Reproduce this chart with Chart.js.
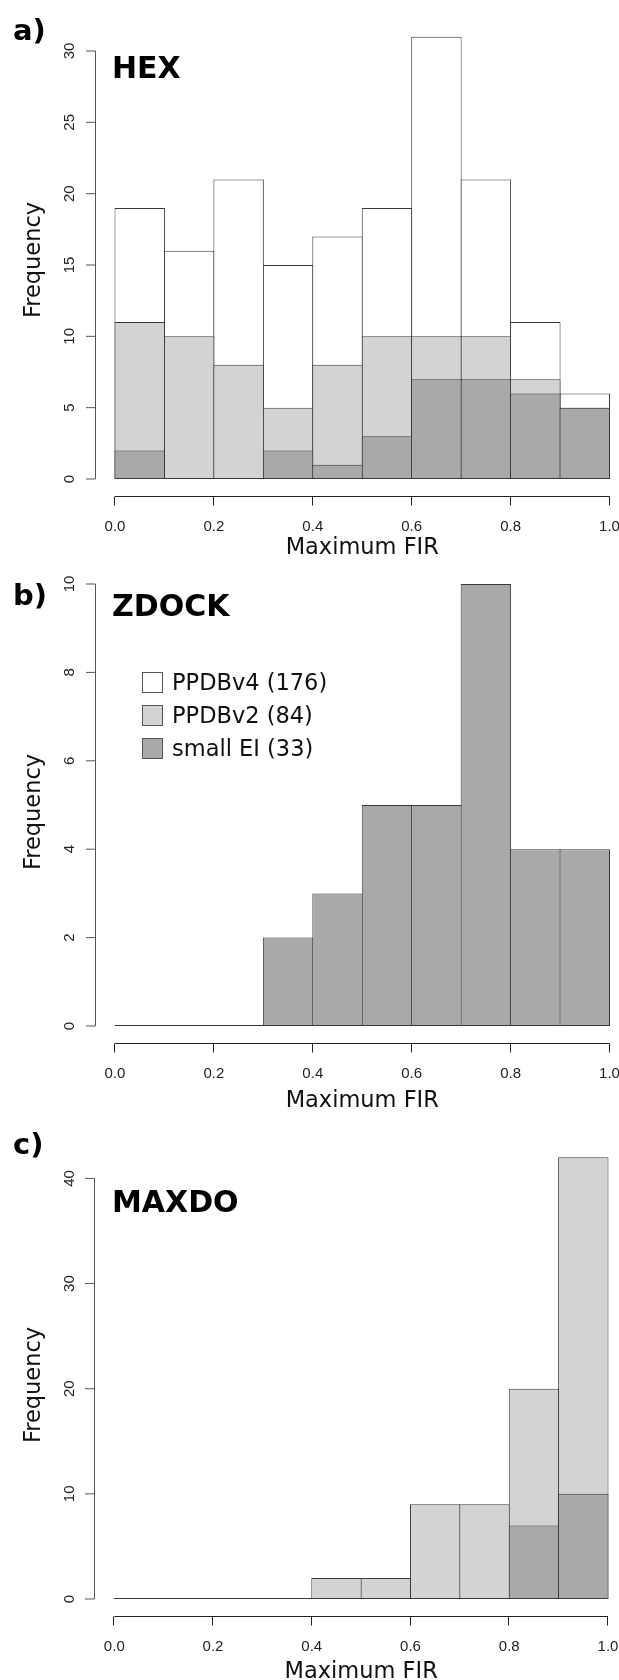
<!DOCTYPE html>
<html>
<head>
<meta charset="utf-8">
<script src="https://cdn.jsdelivr.net/npm/chart.js@4/dist/chart.umd.min.js"></script>
<style>
  html, body { margin: 0; padding: 0; background: #fff; }
  canvas { display: block; }
</style>
</head>
<body>
<canvas id="panelA" width="619" height="560"></canvas>
<canvas id="panelB" width="619" height="560"></canvas>
<canvas id="panelC" width="619" height="560"></canvas>
<script>
// MARK: - Data
// centres of the 0.1 wide classes of Maximum FIR
const binCenters = [0.05, 0.15, 0.25, 0.35, 0.45, 0.55, 0.65, 0.75, 0.85, 0.95];
const xTicks = [0.0, 0.2, 0.4, 0.6, 0.8, 1.0];
const xTickLabels = ['0.0', '0.2', '0.4', '0.6', '0.8', '1.0'];

const seriesNames = ['PPDBv4 (176)', 'PPDBv2 (84)', 'small EI (33)'];
const seriesColors = ['#ffffff', '#d3d3d3', '#a9a9a9'];

// a) HEX
const hexPPDBv4 = [19, 16, 21, 15, 17, 19, 31, 21, 11, 6];
const hexPPDBv2 = [11, 10, 8, 5, 8, 10, 10, 10, 7, 5];
const hexSmallEI = [2, 0, 0, 2, 1, 3, 7, 7, 6, 5];
const hexYTicks = [0, 5, 10, 15, 20, 25, 30];

// b) ZDOCK
const zdockSmallEI = [0, 0, 0, 2, 3, 5, 5, 10, 4, 4];
const zdockYTicks = [0, 2, 4, 6, 8, 10];

// c) MAXDO
const maxdoPPDBv2 = [0, 0, 0, 0, 2, 2, 9, 9, 20, 42];
const maxdoSmallEI = [0, 0, 0, 0, 0, 0, 0, 0, 7, 10];
const maxdoYTicks = [0, 10, 20, 30, 40];

const lineColor = '#3a3a3a';
const textFont = '"DejaVu Sans", Verdana, sans-serif';
const tickFont = '"Liberation Sans", Arial, sans-serif';

function barSet(label, values, color, order) {
  return {
    label: label,
    data: values.map(function(v, i) { return { x: binCenters[i], y: v }; }),
    backgroundColor: color,
    borderColor: lineColor,
    borderWidth: 1,
    borderSkipped: false,
    minBarLength: 1,     // empty classes still show as a line, like R's hist
    grouped: false,
    barPercentage: 1.02, // neighbours share one outline
    categoryPercentage: 1,
    order: order,
    clip: false
  };
}

// MARK: - R style axes, labels, legend
const rAxes = {
  id: 'rAxes',
  afterDraw: function(chart, args, opts) {
    const ctx = chart.ctx;
    const xs = chart.scales.x;
    const ys = chart.scales.y;
    const area = chart.chartArea;
    ctx.save();

    // y axis
    const axX = Math.floor(area.left - 19.5) + 0.5;
    ctx.strokeStyle = '#555';
    ctx.lineWidth = 1;
    ctx.beginPath();
    ctx.moveTo(axX, ys.getPixelForValue(opts.yTicks[0]));
    ctx.lineTo(axX, ys.getPixelForValue(opts.yTicks[opts.yTicks.length - 1]));
    opts.yTicks.forEach(function(t) {
      const py = ys.getPixelForValue(t);
      ctx.moveTo(axX, py);
      ctx.lineTo(axX - 9.5, py);
    });
    ctx.stroke();

    ctx.fillStyle = '#222';
    ctx.font = '15px ' + tickFont;
    ctx.textAlign = 'center';
    ctx.textBaseline = 'alphabetic';
    opts.yTicks.forEach(function(t) {
      ctx.save();
      ctx.translate(74, ys.getPixelForValue(t));
      ctx.rotate(-Math.PI / 2);
      ctx.fillText(String(t), 0, 0);
      ctx.restore();
    });

    // x axis
    const axY = Math.floor(area.bottom + 17.5) + 0.5;
    ctx.strokeStyle = '#222';
    ctx.beginPath();
    ctx.moveTo(xs.getPixelForValue(xTicks[0]), axY);
    ctx.lineTo(xs.getPixelForValue(xTicks[xTicks.length - 1]), axY);
    xTicks.forEach(function(t) {
      const px = Math.round(xs.getPixelForValue(t)) - 0.5;
      ctx.moveTo(px, axY);
      ctx.lineTo(px, axY + 9);
    });
    ctx.stroke();
    xTicks.forEach(function(t, i) {
      ctx.fillText(xTickLabels[i], xs.getPixelForValue(t), area.bottom + 51.5);
    });

    // axis titles
    ctx.fillStyle = '#111';
    ctx.font = '22.5px ' + textFont;
    ctx.fillText('Maximum FIR', (area.left + area.right) / 2, area.bottom + opts.titleOffset);
    ctx.save();
    ctx.translate(40, opts.freqY);
    ctx.rotate(-Math.PI / 2);
    ctx.fillText('Frequency', 0, 0);
    ctx.restore();

    // panel letter and method name
    ctx.fillStyle = '#000';
    ctx.textAlign = 'left';
    ctx.font = 'bold 29px ' + textFont;
    ctx.fillText(opts.letter, 13, opts.letterY);
    ctx.font = 'bold 30px ' + textFont;
    ctx.fillText(opts.name, 112, opts.nameY);

    // legend
    if (opts.legend) {
      ctx.font = '22.5px ' + textFont;
      seriesNames.forEach(function(name, i) {
        const top = 112 + i * 33;
        ctx.fillStyle = seriesColors[i];
        ctx.fillRect(142, top, 21, 21);
        ctx.strokeStyle = '#555';
        ctx.strokeRect(142.5, top + 0.5, 20, 20);
        ctx.fillStyle = '#111';
        ctx.fillText(name, 172, top + 18);
      });
    }
    ctx.restore();
  }
};

function makePanel(id, datasets, yTicks, padding, extra) {
  const ctx = document.getElementById(id).getContext('2d');
  return new Chart(ctx, {
    type: 'bar',
    data: { datasets: datasets },
    options: {
      responsive: false,
      animation: false,
      events: [],
      devicePixelRatio: 1,
      layout: { padding: padding },
      plugins: {
        legend: { display: false },
        tooltip: { enabled: false },
        rAxes: Object.assign({ yTicks: yTicks }, extra)
      },
      scales: {
        x: { type: 'linear', min: 0, max: 1, offset: false, display: false },
        y: { type: 'linear', min: 0, max: yTicks[yTicks.length - 1], display: false }
      }
    },
    plugins: [rAxes]
  });
}

makePanel('panelA', [
  barSet(seriesNames[0], hexPPDBv4, seriesColors[0], 3),
  barSet(seriesNames[1], hexPPDBv2, seriesColors[1], 2),
  barSet(seriesNames[2], hexSmallEI, seriesColors[2], 1)
], hexYTicks, { left: 115, right: 9.5, top: 51, bottom: 81 },
  { letter: 'a)', letterY: 39.5, name: 'HEX', nameY: 78, titleOffset: 75, freqY: 260, legend: false });

makePanel('panelB', [
  barSet(seriesNames[2], zdockSmallEI, seriesColors[2], 1)
], zdockYTicks, { left: 115, right: 9.5, top: 24, bottom: 94 },
  { letter: 'b)', letterY: 45, name: 'ZDOCK', nameY: 56, titleOffset: 81, freqY: 252, legend: true });

makePanel('panelC', [
  barSet(seriesNames[1], maxdoPPDBv2, seriesColors[1], 2),
  barSet(seriesNames[2], maxdoSmallEI, seriesColors[2], 1)
], maxdoYTicks, { left: 114.3, right: 11, top: 58.4, bottom: 81 },
  { letter: 'c)', letterY: 34, name: 'MAXDO', nameY: 92, titleOffset: 79, freqY: 265, legend: false });
</script>
</body>
</html>
